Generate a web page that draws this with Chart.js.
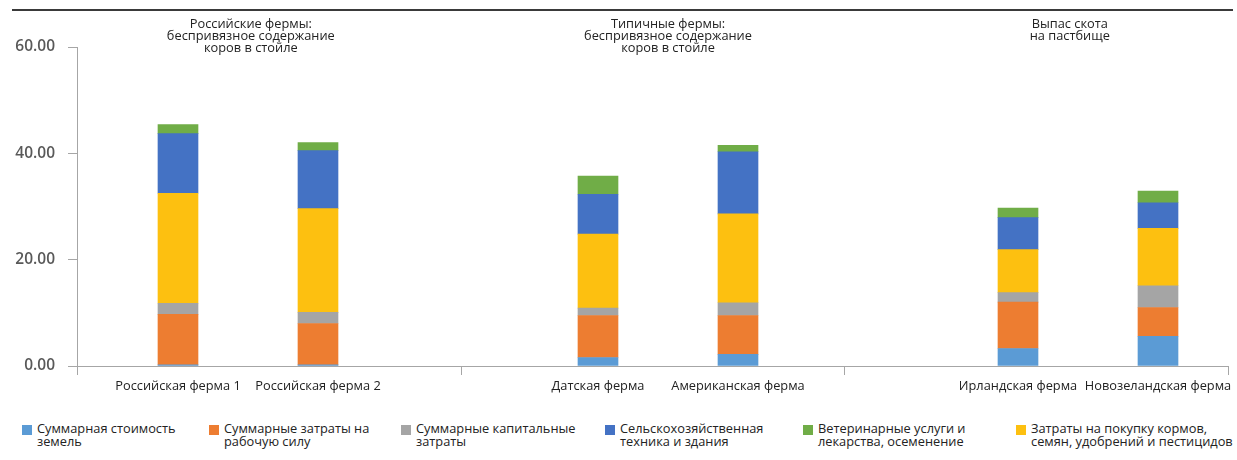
<!DOCTYPE html>
<html lang="ru">
<head>
<meta charset="utf-8">
<script src="https://cdn.jsdelivr.net/npm/chart.js@4"></script>
<style>
    body { margin: 0; background: #fff; font-family: 'Open Sans', sans-serif; }
    #wrap { position: relative; width: 1237px; height: 460px; }
    #chartBox { position: absolute; left: 0; top: 0; width: 1237px; height: 400px; }
    .legend-item { position: absolute; top: 422px; font-size: 12.8px; line-height: 13px; color: #222; }
    .legend-item .box { position: absolute; left: 0; top: 3px; width: 10px; height: 10px; }
    .legend-item .txt { position: absolute; left: 15px; top: 0; white-space: nowrap; }
</style>
</head>
<body>
<div id="wrap">
    <div id="chartBox"><canvas id="farmChart"></canvas></div>
    <div id="legend"></div>
</div>
<script>
// Chart data
const categories = ['Российская ферма 1', 'Российская ферма 2', '', 'Датская ферма', 'Американская ферма', '', 'Ирландская ферма', 'Новозеландская ферма'];
const land      = [0.2, 0.2, null, 1.6, 2.2, null, 3.3, 5.6];
const labor     = [9.5, 7.8, null, 7.9, 7.3, null, 8.7, 5.4];
const capital   = [2.1, 2.1, null, 1.4, 2.4, null, 1.8, 4.1];
const feed      = [20.7, 19.5, null, 13.9, 16.7, null, 8.1, 10.8];
const machinery = [11.2, 10.9, null, 7.5, 11.7, null, 6.0, 4.8];
const vet       = [1.7, 1.5, null, 3.4, 1.2, null, 1.8, 2.2];
const yTicks = [0, 20, 40, 60];

const groupTitles = [
    ['Российские фермы:', 'беспривязное содержание', 'коров в стойле'],
    ['Типичные фермы:', 'беспривязное содержание', 'коров в стойле'],
    ['Выпас скота', 'на пастбище']
];

const seriesNames = {
    land: 'Суммарная стоимость\nземель',
    labor: 'Суммарные затраты на\nрабочую силу',
    capital: 'Суммарные капитальные\nзатраты',
    machinery: 'Сельскохозяйственная\nтехника и здания',
    vet: 'Ветеринарные услуги и\nлекарства, осеменение',
    feed: 'Затраты на покупку кормов,\nсемян, удобрений и пестицидов'
};

const colors = {
    land: '#5b9bd5',
    labor: '#ed7d31',
    capital: '#a5a5a5',
    machinery: '#4472c4',
    vet: '#70ad47',
    feed: '#fdc010'
};

// where each group title sits, in category-index units
const groupTitleAt = [0.52, 3.5, 6.37];
const legendLeft = [22, 209, 401, 605, 803, 1016];
const legendOrder = ['land', 'labor', 'capital', 'machinery', 'vet', 'feed'];

const axisColor = '#a6a6a6';

function toPoints(arr) {
    return arr.map((v, i) => ({ x: i, y: v }));
}

// stack order bottom -> top
const stackOrder = [
    ['land', land],
    ['labor', labor],
    ['capital', capital],
    ['feed', feed],
    ['machinery', machinery],
    ['vet', vet]
];

const datasets = stackOrder.map(([key, arr]) => ({
    label: seriesNames[key].replace('\n', ' '),
    data: toPoints(arr),
    backgroundColor: colors[key],
    borderWidth: 0,
    barThickness: 40
}));

// Extra drawing: top rule, group titles, group separator ticks
const decorPlugin = {
    id: 'decor',
    afterDraw(chart) {
        const ctx = chart.ctx;
        const x = chart.scales.x;
        ctx.save();

        // top rule
        ctx.strokeStyle = '#3a3a3a';
        ctx.lineWidth = 2;
        ctx.beginPath();
        ctx.moveTo(12, 10);
        ctx.lineTo(1233, 10);
        ctx.stroke();

        // group separators (axis split in thirds)
        ctx.strokeStyle = axisColor;
        ctx.lineWidth = 1;
        const w = x.right - x.left;
        for (let k = 0; k <= 3; k++) {
            const px = Math.round(x.left + k * w / 3) + 0.5;
            ctx.beginPath();
            ctx.moveTo(px, x.top);
            ctx.lineTo(px, x.top + 9);
            ctx.stroke();
        }

        // group titles
        ctx.fillStyle = '#222';
        ctx.font = '12.8px "Open Sans", sans-serif';
        ctx.textAlign = 'center';
        ctx.textBaseline = 'middle';
        groupTitles.forEach((lines, g) => {
            const cx = x.getPixelForValue(groupTitleAt[g]);
            lines.forEach((line, j) => {
                ctx.fillText(line, cx, 24 + j * 12.3);
            });
        });
        ctx.restore();
    }
};

function initChart() {
    const ctx = document.getElementById('farmChart').getContext('2d');
    new Chart(ctx, {
        type: 'bar',
        data: { datasets: datasets },
        options: {
            responsive: true,
            maintainAspectRatio: false,
            animation: false,
            layout: { padding: { top: 47, right: 9, left: 0, bottom: 0 } },
            scales: {
                x: {
                    type: 'linear',
                    stacked: true,
                    offset: false,
                    min: -0.7214,
                    max: 7.5,
                    afterBuildTicks: (scale) => {
                        scale.ticks = categories
                            .map((c, i) => ({ value: i }))
                            .filter(t => categories[t.value] !== '');
                    },
                    afterFit: (scale) => { scale.height = 34; },
                    grid: { display: false },
                    border: { display: true, color: axisColor, width: 1 },
                    ticks: {
                        autoSkip: false,
                        maxRotation: 0,
                        padding: 5,
                        color: '#222',
                        font: { family: 'Open Sans', size: 12.8 },
                        callback: (v) => categories[v]
                    }
                },
                y: {
                    stacked: true,
                    min: 0,
                    max: 60,
                    afterBuildTicks: (scale) => {
                        scale.ticks = yTicks.map(v => ({ value: v }));
                    },
                    afterFit: (scale) => { scale.width = 77; },
                    grid: {
                        display: true,
                        drawOnChartArea: false,
                        drawTicks: true,
                        tickLength: 9,
                        color: axisColor
                    },
                    border: { display: true, color: axisColor, width: 1 },
                    ticks: {
                        padding: 13,
                        color: '#595959',
                        font: { family: 'Open Sans', size: 15.5, weight: '600' },
                        callback: (v) => v.toFixed(2)
                    }
                }
            },
            plugins: {
                legend: { display: false },
                tooltip: { enabled: false }
            }
        },
        plugins: [decorPlugin]
    });
}

// HTML legend with two-line labels
function buildLegend() {
    const legend = document.getElementById('legend');
    legendOrder.forEach((key, i) => {
        const item = document.createElement('div');
        item.className = 'legend-item';
        item.style.left = legendLeft[i] + 'px';
        const box = document.createElement('div');
        box.className = 'box';
        box.style.background = colors[key];
        const txt = document.createElement('div');
        txt.className = 'txt';
        txt.innerHTML = seriesNames[key].split('\n').join('<br>');
        item.appendChild(box);
        item.appendChild(txt);
        legend.appendChild(item);
    });
}

buildLegend();
initChart();
</script>
</body>
</html>
